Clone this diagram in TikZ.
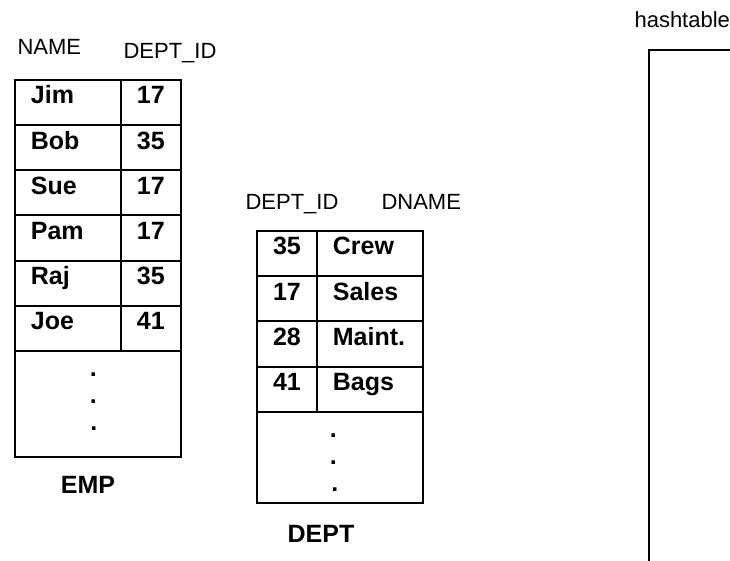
\documentclass[tikz,border=0pt]{standalone}
\usepackage{fontspec}
\setmainfont{Liberation Sans}

\begin{document}
\begin{tikzpicture}[x=1pt, y=-1pt, font=\fontsize{22}{26}\selectfont]
        \tikzset{cell/.style={draw, line width=1.8pt, inner sep=0pt, anchor=north west, text height=24pt, text depth=21pt, font=\fontsize{25}{30}\selectfont\bfseries},
                 txtcell/.style={cell, text width=#1, inner xsep=16pt, align=left},
                 numcell/.style={cell, minimum width=60pt},
                 dotcell/.style={draw, line width=1.8pt, anchor=north west, inner sep=0pt, align=center, text depth=0pt, font=\fontsize{25}{27}\selectfont\bfseries},
                 hdr/.style={anchor=base west},
                 tname/.style={anchor=base, font=\fontsize{25}{30}\selectfont\bfseries}}
        \useasboundingbox (0,0) rectangle (730,561);
        % EMP table
        \node[hdr] (eh1) at (14,55) {NAME};
        \node[hdr] (eh2) at (120,59) {DEPT\_ID};
        \foreach \n/\d [count=\i from 0] in {Jim/17,Bob/35,Sue/17,Pam/17,Raj/35,Joe/41} {
            \node[txtcell=74pt] (en\i) at (14,79+45.2*\i) {\n};
            \node[numcell] (ed\i) at (120,79+45.2*\i) {\d};
        }
        \node[dotcell, text height=53pt, minimum width=166pt, minimum height=106pt] (edots) at (14,350) {\hspace*{-8pt}.\\\hspace*{-8pt}.\\\hspace*{-8pt}.};
        \node[tname] (emp) at (88,493) {EMP};
        % DEPT table
        \node[hdr] (dh1) at (242,210) {DEPT\_ID};
        \node[hdr] (dh2) at (378,210) {DNAME};
        \foreach \d/\n [count=\i from 0] in {35/Crew,17/Sales,28/Maint.,41/Bags} {
            \node[numcell] (dd\i) at (256,230+45.25*\i) {\d};
            \node[txtcell=74pt] (dn\i) at (316,230+45.25*\i) {\n};
        }
        \node[dotcell, text height=68pt, minimum width=166pt, minimum height=91pt] (ddots) at (256,411) {\hspace*{-10pt}.\\\hspace*{-10pt}.\\\hspace*{-10pt}.};
        \node[tname] (dept) at (321,542) {DEPT};
        % hashtable
        \node[hdr] (hh) at (631,28) {hashtable};
        \node[draw, line width=1.8pt, anchor=north west, minimum width=140pt, minimum height=560pt] (hash) at (648,49) {};
\end{tikzpicture}
\end{document}
